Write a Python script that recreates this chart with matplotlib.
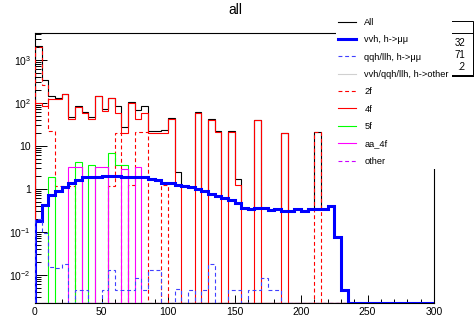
import numpy as np
import matplotlib as mpl
from matplotlib import pyplot as plt
from matplotlib.patches import Rectangle
from matplotlib.lines import Line2D
from matplotlib.ticker import FixedLocator, FixedFormatter, LogLocator, NullFormatter, MultipleLocator

##########################################################################################
# histogram contents (60 bins of width 5 between 0 and 300)
binEdges = np.linspace(0.0, 300.0, 61)

allSamples = [2130, 340, 145, 126, 160, 46, 86, 62, 46, 145,
              70, 130, 85, 28, 103, 68, 82, 22, 22, 23,
              43.5, 2.4, 1.13, 1.07, 60, 0.87, 41, 22, 0.62, 22,
              1.65, 0.35, 0.34, 40, 0.36, 0.32, 0.33, 20, 0.30, 0.34,
              0.31, 0.34, 21, 0.34, 0.40, 0.077, 0.0044, 0, 0, 0,
              0, 0, 0, 0, 0, 0, 0, 0, 0, 0]

vvhMuMu = [0.18, 0.43, 0.71, 0.90, 1.08, 1.33, 1.62, 1.85, 1.90, 1.90,
           1.95, 1.97, 1.97, 1.83, 1.92, 1.92, 1.83, 1.68, 1.58, 1.37,
           1.36, 1.22, 1.13, 1.07, 0.98, 0.87, 0.77, 0.69, 0.62, 0.55,
           0.46, 0.35, 0.34, 0.355, 0.355, 0.32, 0.33, 0.30, 0.30, 0.34,
           0.31, 0.34, 0.34, 0.34, 0.40, 0.077, 0.0044, 0, 0, 0,
           0, 0, 0, 0, 0, 0, 0, 0, 0, 0]

qqhMuMu = [0.2, 0.095, 0.0155, 0.014, 0.018, 0, 0.0045, 0.0045, 0, 0,
           0.0043, 0.013, 0.0044, 0.0044, 0.0044, 0.0086, 0.0044, 0.0129, 0.0129, 0,
           0, 0.0046, 0, 0.0045, 0, 0.0044, 0.0175, 0, 0, 0.0044,
           0.0044, 0, 0.0044, 0.0044, 0.0086, 0.0044, 0.0044, 0, 0, 0,
           0, 0, 0, 0, 0, 0, 0, 0, 0, 0,
           0, 0, 0, 0, 0, 0, 0, 0, 0, 0]

higgsOther = [0] * 60

twoF = [2000, 255, 22, 1.17, 1.17, 1.17, 0, 0, 0, 0,
        0, 1.17, 20, 0, 1.2, 21, 21, 0, 0, 1.2,
        0, 0, 0, 0, 0, 0, 0, 0, 0, 0,
        0, 0, 0, 0, 0, 0, 0, 0, 0, 0,
        0, 0, 21, 0, 0, 0, 0, 0, 0, 0,
        0, 0, 0, 0, 0, 0, 0, 0, 0, 0]

fourF = [100, 85, 120, 122, 159, 42, 81, 59, 42, 140,
         65, 126, 59, 19.5, 100, 42, 59, 20, 20, 20,
         42, 1.2, 0, 0, 59, 0, 40, 21, 0, 21,
         1.2, 0, 0, 40, 0, 0, 0, 20, 0, 0,
         0, 0, 0, 0, 0, 0, 0, 0, 0, 0,
         0, 0, 0, 0, 0, 0, 0, 0, 0, 0]

fiveF = [0, 0, 1.83, 0, 0, 0, 4.1, 0, 3.6, 0,
         0, 6.7, 3.6, 3.6, 0, 0, 0, 0, 0, 0] + [0] * 40

aa4F = [0, 0, 0, 0, 0, 3.2, 3.2, 0, 0, 3.2,
        3.2, 0, 0, 2.9, 0, 3.2, 0, 0, 0, 0] + [0] * 40

otherBkg = [0] * 60

yTickVals = [1e-2, 1e-1, 1.0, 10.0, 1e2, 1e3]
yTickLabels = [r'$10^{-2}$', r'$10^{-1}$', '1', '10', r'$10^{2}$', r'$10^{3}$']

##########################################################################################
# style
mpl.rc('font', **{'family': 'sans-serif', 'sans-serif': ['Liberation Sans', 'DejaVu Sans']})
mpl.rcParams['mathtext.fontset'] = 'custom'
mpl.rcParams['mathtext.rm'] = 'Liberation Sans'
mpl.rcParams['mathtext.it'] = 'Liberation Sans:italic'
mpl.rcParams['mathtext.bf'] = 'Liberation Sans:bold'

W, H = 474.0, 320.0
f = plt.figure(figsize = (W / 100.0, H / 100.0), dpi = 100)
ax1 = f.add_axes([35.0 / W, 1.0 - 303.0 / H, (434.0 - 35.0) / W, (303.0 - 33.0) / H])

yMin, yMax = 0.0022, 4200.0
ax1.set_yscale('log', nonpositive = 'clip')
ax1.set_xlim(0.0, 300.0)
ax1.set_ylim(yMin, yMax)

##########################################################################################
# plotting: zero bins sit on the frame bottom, as in ROOT
def draw(vals, **kw):
    v = np.clip(np.asarray(vals, dtype = float), yMin, None)
    return ax1.stairs(v, binEdges, baseline = yMin, fill = False, **kw)

dash = (0, (3.5, 2.5))
hAll = draw(allSamples, color = 'black', lw = 0.8, zorder = 2)
hOth = draw(higgsOther, color = '#d0d0d0', lw = 0.8, zorder = 2.1)
h2f = draw(twoF, color = '#ff0000', lw = 0.8, ls = dash, zorder = 3)
h4f = draw(fourF, color = '#ff0000', lw = 0.8, zorder = 3)
h5f = draw(fiveF, color = '#00ff00', lw = 0.8, zorder = 3)
haa = draw(aa4F, color = '#ff00ff', lw = 0.8, zorder = 3)
hother = draw(otherBkg, color = '#cc00ff', lw = 0.8, ls = dash, zorder = 3.1)
hvvh = draw(vvhMuMu, color = '#0000ff', lw = 2.2, zorder = 4)
hqqh = draw(qqhMuMu, color = '#4040ff', lw = 0.8, ls = dash, zorder = 4.1)

##########################################################################################
# axes, ticks
for spine in ax1.spines.values():
    spine.set_linewidth(0.8)

ax1.xaxis.set_major_locator(MultipleLocator(50))
ax1.xaxis.set_minor_locator(MultipleLocator(10))
ax1.yaxis.set_major_locator(FixedLocator(yTickVals))
ax1.yaxis.set_major_formatter(FixedFormatter(yTickLabels))
ax1.yaxis.set_minor_locator(LogLocator(base = 10.0, subs = np.arange(2, 10), numticks = 20))
ax1.yaxis.set_minor_formatter(NullFormatter())

ax1.tick_params(axis = 'both', which = 'both', direction = 'in', top = False, right = False,
                labelsize = 7.5, width = 0.7, colors = 'black')
ax1.tick_params(axis = 'x', which = 'major', length = 5.8, pad = 3.0)
ax1.tick_params(axis = 'x', which = 'minor', length = 2.9)
ax1.tick_params(axis = 'y', which = 'major', length = 8.3, pad = 3.0)
ax1.tick_params(axis = 'y', which = 'minor', length = 4.3)

f.text(235.0 / W, 1.0 - 10.0 / H, 'all', ha = 'center', va = 'center', fontsize = 10)

##########################################################################################
# stats box, mostly hidden behind the legend
sx0, sx1 = 380.0, 473.0
sy0, sy1 = 20.7, 75.0
f.patches.append(Rectangle((sx0 / W + 1.5 / W, 1.0 - (sy1 + 1.5) / H), (sx1 - sx0) / W,
                           (sy1 - sy0) / H, transform = f.transFigure,
                           facecolor = 'black', edgecolor = 'none', zorder = 2))
f.patches.append(Rectangle((sx0 / W, 1.0 - sy1 / H), (sx1 - sx0) / W, (sy1 - sy0) / H,
                           transform = f.transFigure, facecolor = 'white',
                           edgecolor = 'black', lw = 0.7, zorder = 2.1))
f.lines.append(Line2D([sx0 / W, sx1 / W], [1.0 - 33.3 / H, 1.0 - 33.3 / H],
                      transform = f.transFigure, color = 'black', lw = 0.7, zorder = 2.2))
for yy, txt in zip([43.0, 55.0, 67.0], ['32', '71', '.2']):
    f.text(465.0 / W, 1.0 - yy / H, txt, ha = 'right', va = 'center', fontsize = 7,
           zorder = 2.3)

##########################################################################################
# legend
handles = [hAll, hvvh, hqqh, hOth, h2f, h4f, h5f, haa, hother]
labels = ['All', u'vvh, h->\u03bc\u03bc', u'qqh/llh, h->\u03bc\u03bc', 'vvh/qqh/llh, h->other',
          '2f', '4f', '5f', 'aa_4f', 'other']
leg = f.legend(handles, labels, loc = 'upper left',
               bbox_to_anchor = (335.5 / W, 1.0 - 15.0 / H),
               bbox_transform = f.transFigure,
               fontsize = 6.7, frameon = True, fancybox = False, framealpha = 1.0,
               facecolor = 'white', edgecolor = 'none',
               handlelength = 1.95, handletextpad = 0.85, labelspacing = 0.9,
               borderpad = 0.3, borderaxespad = 0.0)
leg.set_zorder(10)

f.savefig('out.png', dpi = 100)
plt.close(f)
